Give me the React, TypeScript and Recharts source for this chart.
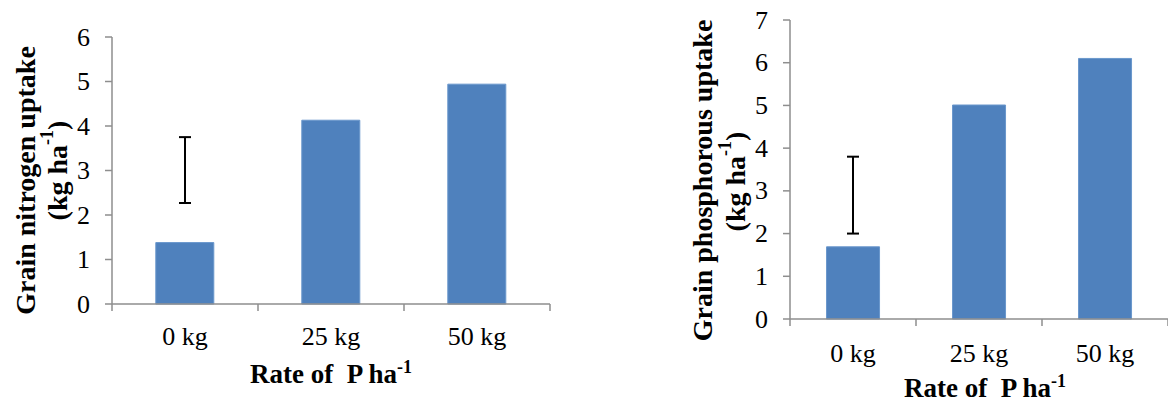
import { ComposedChart, Bar, Line, ErrorBar, XAxis, YAxis, Label } from "recharts";

const categories = ["0 kg", "25 kg", "50 kg"];
const nitrogenUptake = [1.38, 4.13, 4.94];
const nitrogenErrMid = [3.01, null, null];
const nitrogenErrHalf = [0.74, null, null];
const phosphorusUptake = [1.69, 5.01, 6.1];
const phosphorusErrMid = [2.9, null, null];
const phosphorusErrHalf = [0.9, null, null];
const nitrogenTicks = [0, 1, 2, 3, 4, 5, 6];
const phosphorusTicks = [0, 1, 2, 3, 4, 5, 6, 7];

const FONT = "Liberation Serif, Times New Roman, serif";
const AXIS = "#8e8e8e";
const BAR = "#4f81bd";

const nitrogenData = categories.map((c, i) => ({
  rate: c,
  value: nitrogenUptake[i],
  errMid: nitrogenErrMid[i],
  errHalf: nitrogenErrHalf[i],
}));

const phosphorusData = categories.map((c, i) => ({
  rate: c,
  value: phosphorusUptake[i],
  errMid: phosphorusErrMid[i],
  errHalf: phosphorusErrHalf[i],
}));

// category labels in the middle, tick marks on the category borders (Excel style)
function makeXTick(band: number, labelDy: number) {
  return (props: any) => {
    const { x, y, payload, index } = props;
    const last = index === categories.length - 1;
    return (
      <g>
        <line x1={x - band / 2} x2={x - band / 2} y1={y} y2={y + 7} stroke={AXIS} strokeWidth={1.5} />
        {last && <line x1={x + band / 2} x2={x + band / 2} y1={y} y2={y + 7} stroke={AXIS} strokeWidth={1.5} />}
        <text x={x} y={y + labelDy} textAnchor="middle" fontFamily={FONT} fontSize={26} fill="#000">
          {payload.value}
        </text>
      </g>
    );
  };
}

function makeYTick(props: any) {
  const { x, y, payload } = props;
  return (
    <text x={x} y={y} textAnchor="end" dominantBaseline="central" fontFamily={FONT} fontSize={26} fill="#000">
      {payload.value}
    </text>
  );
}

function makeYTitle(line1: string, x1: number, dy1: number, x2: number, dy2: number) {
  return (props: any) => {
    const vb = props.viewBox;
    const cy = vb.y + vb.height / 2;
    return (
      <g fontFamily={FONT} fontWeight="bold" fontSize={28} fill="#000">
        <text
          x={vb.x + x1}
          y={cy + dy1}
          textAnchor="middle"
          dominantBaseline="central"
          transform={`rotate(-90, ${vb.x + x1}, ${cy + dy1})`}
        >
          {line1}
        </text>
        <text
          x={vb.x + x2}
          y={cy + dy2}
          textAnchor="middle"
          dominantBaseline="central"
          transform={`rotate(-90, ${vb.x + x2}, ${cy + dy2})`}
        >
          <tspan>(kg ha</tspan>
          <tspan dy={-10} fontSize={18}>-1</tspan>
          <tspan dy={10}>)</tspan>
        </text>
      </g>
    );
  };
}

function makeXTitle(dx: number, dy: number) {
  return (props: any) => {
    const vb = props.viewBox;
    const cx = vb.x + vb.width / 2 + dx;
    return (
      <text
        x={cx}
        y={vb.y + dy}
        textAnchor="middle"
        fill="#000"
        fontFamily={FONT}
        fontWeight="bold"
        fontSize={27}
        style={{ whiteSpace: "pre" }}
      >
        <tspan>Rate of  P ha</tspan>
        <tspan dy={-10} fontSize={18}>-1</tspan>
      </text>
    );
  };
}

interface UptakeChartProps {
  data: any[];
  width: number;
  yWidth: number;
  top: number;
  right: number;
  xHeight: number;
  ticks: number[];
  gap: string;
  labelDy: number;
  title: string;
  t1: [number, number];
  t2: [number, number];
  xTitle: [number, number];
}

function UptakeChart(p: UptakeChartProps) {
  const band = (p.width - p.yWidth - p.right) / categories.length;
  return (
    <ComposedChart
      width={p.width}
      height={402}
      data={p.data}
      margin={{ top: p.top, right: p.right, left: 0, bottom: 0 }}
      barCategoryGap={p.gap}
    >
      <XAxis
        dataKey="rate"
        height={p.xHeight}
        axisLine={{ stroke: AXIS, strokeWidth: 1.5 }}
        tickLine={false}
        tickSize={0}
        tickMargin={0}
        interval={0}
        tick={makeXTick(band, p.labelDy)}
      >
        <Label content={makeXTitle(p.xTitle[0], p.xTitle[1])} />
      </XAxis>
      <YAxis
        width={p.yWidth}
        domain={[0, p.ticks[p.ticks.length - 1]]}
        ticks={p.ticks}
        interval={0}
        axisLine={{ stroke: AXIS, strokeWidth: 1.5 }}
        tickLine={{ stroke: AXIS, strokeWidth: 1.5 }}
        tickSize={7}
        tickMargin={15}
        tick={makeYTick}
      >
        <Label content={makeYTitle(p.title, p.t1[0], p.t1[1], p.t2[0], p.t2[1])} />
      </YAxis>
      <Bar dataKey="value" fill={BAR} stroke="#6a97cc" strokeWidth={1} isAnimationActive={false} />
      <Line dataKey="errMid" stroke="none" dot={false} activeDot={false} isAnimationActive={false}>
        <ErrorBar dataKey="errHalf" direction="y" width={6} stroke="#000" strokeWidth={2} />
      </Line>
    </ComposedChart>
  );
}

export default function App() {
  return (
    <div style={{ position: "absolute", left: 0, top: 0, width: 1168, height: 402, background: "#fff" }}>
      <div style={{ position: "absolute", left: 0, top: 0 }}>
        <UptakeChart
          data={nitrogenData}
          width={580}
          yWidth={112}
          top={37}
          right={30}
          xHeight={98}
          ticks={nitrogenTicks}
          gap="30%"
          labelDy={41}
          title="Grain nitrogen uptake"
          t1={[25, 10]}
          t2={[57, 0]}
          xTitle={[0, 79]}
        />
      </div>
      <div style={{ position: "absolute", left: 580, top: 0 }}>
        <UptakeChart
          data={phosphorusData}
          width={588}
          yWidth={210}
          top={20}
          right={0}
          xHeight={83}
          ticks={phosphorusTicks}
          gap="29%"
          labelDy={43}
          title="Grain phosphorous uptake"
          t1={[122, 11]}
          t2={[155, 12]}
          xTitle={[6, 78]}
        />
      </div>
    </div>
  );
}
